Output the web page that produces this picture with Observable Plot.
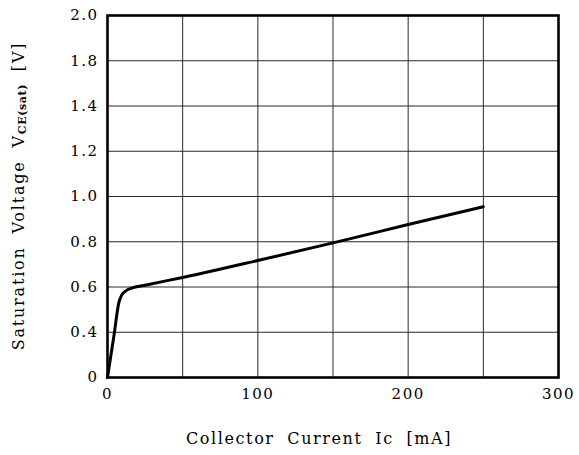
<!DOCTYPE html>
<html><head><meta charset="utf-8">
<script src="https://cdn.jsdelivr.net/npm/d3@7"></script>
<script src="https://cdn.jsdelivr.net/npm/@observablehq/plot@0.6"></script>
<style>body{margin:0;background:#fff;} #chart svg{display:block;}</style>
</head><body><div id="chart"></div>
<script>
// Data (Ic in mA, VCE(sat) in V)
const current = [0, 4.4, 7.5, 9.5, 12, 16, 25, 50, 100, 150, 200, 250];
const voltage = [0, 0.38, 0.53, 0.565, 0.582, 0.595, 0.608, 0.642, 0.717, 0.795, 0.876, 0.955];

const xTicks = [0, 100, 200, 300];
const xGrid = [50, 100, 150, 200, 250];
const yTicks = [0, 0.4, 0.6, 0.8, 1.0, 1.2, 1.4, 1.8, 2.0];
const yTickLabels = ["0", "0.4", "0.6", "0.8", "1.0", "1.2", "1.4", "1.8", "2.0"];
const xTitle = "Collector Current Ic [mA]";
const yTitleMain = "Saturation Voltage V";
const yTitleSub = "CE(sat)";
const yTitleUnit = " [V]";

const W = 579, H = 455, mt = 15, mb = 78, ml = 107, mr = 21;
const plotBottom = H - mb, plotTop = mt;

// the reference's y axis spaces its labelled gridlines evenly (piecewise)
const yPiece = d3.scaleLinear().domain(yTicks).range(yTicks.map((_, i) => i));

const data = current.map((c, i) => ({c, v: voltage[i]}));
const font = "DejaVu Serif";

const chart = Plot.plot({
  width: W, height: H,
  marginTop: mt, marginBottom: mb, marginLeft: ml, marginRight: mr,
  style: {fontFamily: font, fontSize: "15px", color: "#000", background: "#fff"},
  x: {domain: [0, 300]},
  y: {transform: (v) => yPiece(v)},
  marks: [
    Plot.gridX(xGrid, {stroke: "#2a2a2a", strokeOpacity: 1, strokeWidth: 1}),
    Plot.gridY(yTicks, {stroke: "#2a2a2a", strokeOpacity: 1, strokeWidth: 1}),
    Plot.line(data, {x: "c", y: "v", stroke: "#000", strokeWidth: 3, curve: "monotone-x"}),
    Plot.frame({stroke: "#000", strokeWidth: 2.6}),
    Plot.axisX(xTicks, {tickSize: 0, tickPadding: 11, label: null, fontSize: 15}),
    Plot.axisY(yTicks, {tickSize: 0, tickPadding: 9, label: null, fontSize: 15,
      tickFormat: (d) => yTickLabels[yTicks.indexOf(d)]})
  ]
});

const svg = d3.select(chart);
svg.selectAll("g[aria-label='x-axis tick label'] text, g[aria-label='y-axis tick label'] text")
  .attr("letter-spacing", 1.5);

// x title
svg.append("text")
  .attr("x", 319).attr("y", 438).attr("dy", "0.35em")
  .attr("text-anchor", "middle")
  .attr("font-family", font).attr("font-size", 16)
  .attr("letter-spacing", 1.6).attr("word-spacing", 6)
  .attr("fill", "#000")
  .text(xTitle);

// y title with subscript
const t = svg.append("text")
  .attr("transform", `translate(24,${(plotTop + plotBottom) / 2}) rotate(-90)`)
  .attr("text-anchor", "middle")
  .attr("font-family", font)
  .attr("font-size", 16)
  .attr("letter-spacing", 1.8)
  .attr("word-spacing", 6)
  .attr("fill", "#000");
t.append("tspan").text(yTitleMain);
t.append("tspan").attr("font-size", 11).attr("font-weight", "bold").attr("dy", 2).attr("letter-spacing", 0.6).text(yTitleSub);
t.append("tspan").attr("dy", -2).text(yTitleUnit);

document.getElementById("chart").append(chart);
</script>
</body></html>
